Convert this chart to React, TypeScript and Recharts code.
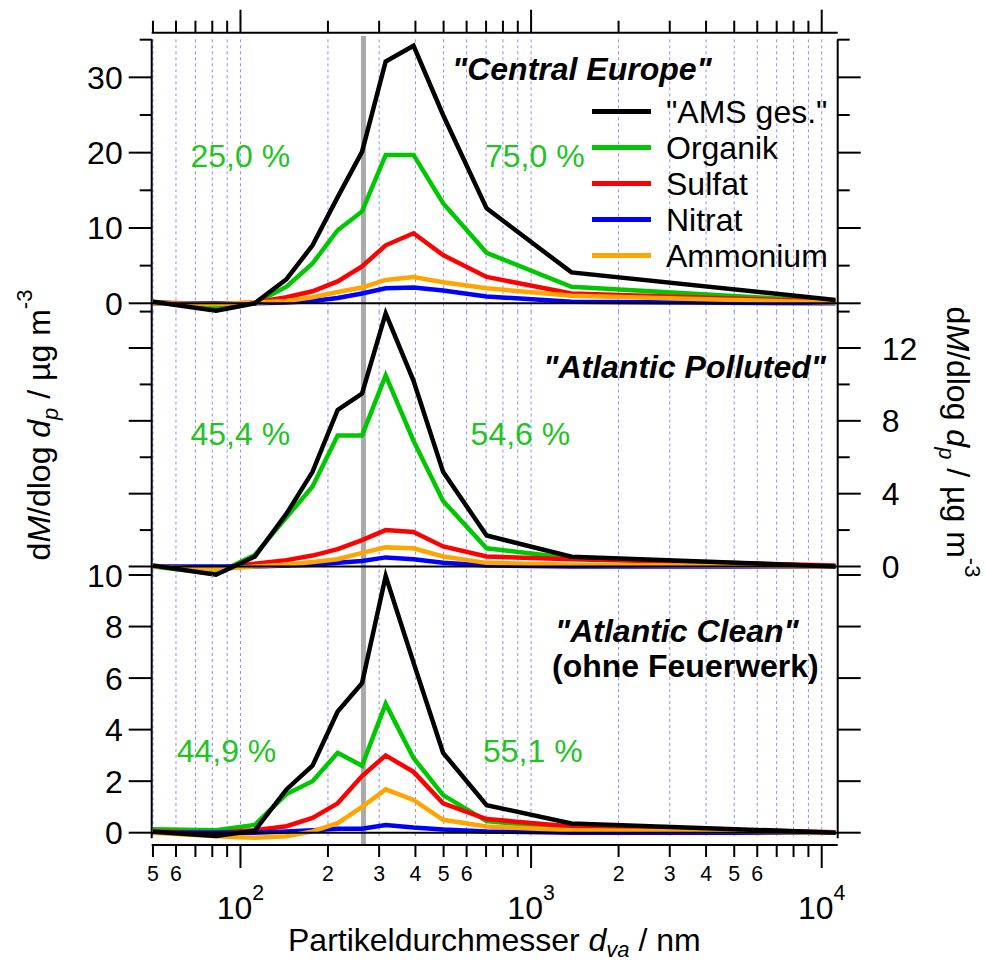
import React from 'react';
import { LineChart, Line, XAxis, YAxis, CartesianGrid, ReferenceLine, Legend } from 'recharts';

const FONT = '"Liberation Sans", Arial, Helvetica, sans-serif';

// particle size bins (nm)
const sizes = [50, 82.4, 112, 144, 177, 216, 262, 316, 394, 498, 703, 1377, 11150];

const species = ['"AMS ges."', 'Organik', 'Sulfat', 'Nitrat', 'Ammonium'];
const keys = ['total', 'org', 'so4', 'no3', 'nh4'];
const colors = ['#000000', '#00c800', '#ff0000', '#0000ff', '#ffa500'];

// "Central Europe"
const ceTotal = [0.2, -1.0, 0.0, 3.2, 7.7, 14.1, 20.1, 32.1, 34.2, 25.0, 12.6, 4.1, 0.45];
const ceOrg = [0.2, -0.45, 0.0, 2.2, 5.3, 9.7, 12.2, 19.7, 19.7, 13.3, 6.7, 2.2, 0.2];
const ceSo4 = [0.1, -0.1, 0.1, 0.8, 1.6, 2.9, 4.9, 7.7, 9.3, 6.4, 3.5, 1.3, 0.2];
const ceNo3 = [0, 0, 0, 0.1, 0.3, 0.7, 1.3, 2.0, 2.1, 1.7, 0.9, 0.2, 0];
const ceNh4 = [0, -0.1, 0.1, 0.3, 0.8, 1.5, 2.1, 3.1, 3.5, 2.8, 2.0, 1.0, 0.1];

// "Atlantic Polluted"
const apTotal = [0.05, -0.45, 0.54, 2.9, 5.2, 8.6, 9.5, 13.9, 10.2, 5.2, 1.7, 0.54, 0.0];
const apOrg = [0.0, -0.4, 0.63, 2.7, 4.4, 7.2, 7.2, 10.5, 6.9, 3.6, 1.0, 0.45, 0.0];
const apSo4 = [0.0, -0.1, 0.15, 0.35, 0.6, 0.95, 1.45, 2.0, 1.9, 1.1, 0.55, 0.4, 0.05];
const apNo3 = [0, 0, 0, 0.05, 0.1, 0.2, 0.3, 0.5, 0.4, 0.2, 0.05, 0, 0];
const apNh4 = [0, -0.15, 0.0, 0.1, 0.25, 0.4, 0.75, 1.05, 1.0, 0.55, 0.2, 0.1, 0];

// "Atlantic Clean" (ohne Feuerwerk)
const acTotal = [0.04, -0.13, 0.08, 1.68, 2.6, 4.7, 5.8, 9.96, 6.6, 3.1, 1.07, 0.36, 0.0];
const acOrg = [0.13, 0.1, 0.3, 1.5, 2.0, 3.1, 2.6, 5.0, 2.9, 1.46, 0.45, 0.15, 0.0];
const acSo4 = [0.05, 0.0, 0.1, 0.25, 0.57, 1.14, 2.2, 3.0, 2.36, 1.14, 0.53, 0.24, 0.02];
const acNo3 = [0, 0, 0, 0.05, 0.1, 0.15, 0.15, 0.3, 0.2, 0.12, 0.05, 0, 0];
const acNh4 = [0.0, -0.14, -0.2, -0.14, 0.05, 0.37, 1.0, 1.68, 1.27, 0.5, 0.24, 0.1, 0.0];

// fraction below / above the cut diameter
const pctCE = ['25,0 %', '75,0 %'];
const pctAP = ['45,4 %', '54,6 %'];
const pctAC = ['44,9 %', '55,1 %'];

const cutSize = 265;
const xDomain = [49.5, 11350];
const xTicks = [50, 60, 70, 80, 90, 100, 200, 300, 400, 500, 600, 700, 800, 900,
  1000, 2000, 3000, 4000, 5000, 6000, 7000, 8000, 9000, 10000];
const xTickLabels = ['5', '6', '', '', '', '2', '2', '3', '4', '5', '6', '', '', '',
  '3', '2', '3', '4', '5', '6', '', '', '', '4'];
const xMajor = [100, 1000, 10000];

const ceTicks = [0, 5, 10, 15, 20, 25, 30, 35];
const ceMajor = [0, 10, 20, 30];
const apTicks = [0, 2, 4, 6, 8, 10, 12, 14];
const apMajor = [0, 4, 8, 12];
const acTicks = [0, 2, 4, 6, 8, 10];

const PLOT_W = 686; // distance between left and right axis lines

const build = (rows: number[][]) =>
  sizes.map((s, i) => {
    const o: any = { size: s };
    keys.forEach((k, j) => { o[k] = rows[j][i]; });
    return o;
  });

const ceData = build([ceTotal, ceOrg, ceSo4, ceNo3, ceNh4]);
const apData = build([apTotal, apOrg, apSo4, apNo3, apNh4]);
const acData = build([acTotal, acOrg, acSo4, acNo3, acNh4]);

// left axis tick renderer; it mirrors the tick onto the right axis as well
const makeYTick = (majors: number[], leftLabels: number[], rightLabels: number[]) => (p: any) => {
  const v = Number(p.payload.value);
  const len = majors.includes(v) ? 23 : 12;
  const xr = p.x + PLOT_W;
  return (
    <g fontFamily={FONT} fontSize={32} fill="#000">
      <line x1={p.x} x2={p.x - len} y1={p.y} y2={p.y} stroke="#000" strokeWidth={2} />
      <line x1={xr} x2={xr + len} y1={p.y} y2={p.y} stroke="#000" strokeWidth={2} />
      {leftLabels.includes(v) ? (
        <text x={p.x - 29} y={p.y + 11.5} textAnchor="end">{String(v)}</text>
      ) : null}
      {rightLabels.includes(v) ? (
        <text x={xr + 44} y={p.y + 11.5} textAnchor="start">{String(v)}</text>
      ) : null}
    </g>
  );
};

const TopXTick = (p: any) => {
  const v = p.payload.value;
  const y0 = p.y - 6.6;
  const len = xMajor.includes(v) ? 23 : 12;
  return <line x1={p.x} x2={p.x} y1={y0} y2={y0 - len} stroke="#000" strokeWidth={2} />;
};

const BottomXTick = (p: any) => {
  const v = p.payload.value;
  const major = xMajor.includes(v);
  const label = xTickLabels[xTicks.indexOf(v)];
  const y0 = p.y + 6.7;
  return (
    <g fontFamily={FONT} fill="#000">
      <line x1={p.x} x2={p.x} y1={y0} y2={y0 + (major ? 23 : 12)} stroke="#000" strokeWidth={2} />
      {major ? (
        <text x={p.x} y={y0 + 74} textAnchor="middle" fontSize={32}>
          10<tspan dy={-19} fontSize={21.3}>{label}</tspan>
        </text>
      ) : label ? (
        <text x={p.x} y={y0 + 35.6} textAnchor="middle" fontSize={21.3}>{label}</text>
      ) : null}
    </g>
  );
};

const LegendBox = () => (
  <div style={{ fontFamily: FONT, fontSize: 32, color: '#000' }}>
    {species.map((s, i) => (
      <div key={s} style={{ display: 'flex', alignItems: 'center', height: 36 }}>
        <div style={{ width: 59, height: 5, background: colors[i], marginRight: 15 }} />
        <span style={{ lineHeight: '36px', whiteSpace: 'nowrap' }}>{s}</span>
      </div>
    ))}
  </div>
);

const drawOrder = [1, 2, 3, 4, 0];

const renderLines = () =>
  drawOrder.map((i) => (
    <Line
      key={keys[i]}
      yAxisId="l"
      type="linear"
      dataKey={keys[i]}
      name={species[i]}
      stroke={colors[i]}
      strokeWidth={4.5}
      dot={false}
      activeDot={false}
      isAnimationActive={false}
    />
  ));

const axisLine = { stroke: '#000', strokeWidth: 2 };

export default function App() {
  const sideMargin = { left: 91.7, right: 87.3 };
  return (
    <div style={{ position: 'absolute', left: 0, top: 0, width: 985, height: 963, background: '#fff', fontFamily: FONT }}>
      {/* Central Europe */}
      <div style={{ position: 'absolute', left: 0, top: 0 }}>
        <LineChart width={985} height={330} data={ceData} margin={{ top: 9.3, bottom: 18, ...sideMargin }}>
          <CartesianGrid yAxisId="l" horizontal={false} stroke="#8c8cff" strokeDasharray="3 3" />
          <XAxis dataKey="size" type="number" scale="log" domain={xDomain} ticks={xTicks} interval={0}
            orientation="top" height={30} axisLine={false} tickLine={false} tickSize={0} tickMargin={0} tick={TopXTick} />
          <YAxis yAxisId="l" domain={[-1.155, 35.05]} ticks={ceTicks} interval={0} width={60}
            axisLine={axisLine} tickLine={false} tickSize={0} tickMargin={0} tick={makeYTick(ceMajor, ceMajor, [])} />
          <YAxis yAxisId="r" orientation="right" domain={[-1.155, 35.05]} width={60}
            axisLine={axisLine} tickLine={false} tick={false} />
          <ReferenceLine yAxisId="l" segment={[{ x: cutSize, y: 35.5 }, { x: cutSize, y: -1.155 }]} ifOverflow="visible" stroke="#aaaaaa" strokeWidth={5} />
          <ReferenceLine yAxisId="l" y={35.93} ifOverflow="visible" stroke="#000" strokeWidth={2} />
          {renderLines()}
          <ReferenceLine yAxisId="l" y={0} stroke="#000" strokeWidth={2} />
          <Legend layout="vertical" verticalAlign="middle" align="center"
            wrapperStyle={{ left: 592, top: 93.7, width: 260, height: 180 }} content={() => <LegendBox />} />
        </LineChart>
      </div>

      {/* Atlantic Polluted */}
      <div style={{ position: 'absolute', left: 0, top: 290 }}>
        <LineChart width={985} height={305} data={apData} margin={{ top: 21.6, bottom: 20, ...sideMargin }}>
          <CartesianGrid yAxisId="l" horizontal={false} stroke="#8c8cff" strokeDasharray="3 3" />
          <XAxis dataKey="size" type="number" scale="log" domain={xDomain} ticks={xTicks} interval={0} hide />
          <YAxis yAxisId="l" domain={[-0.467, 14]} ticks={apTicks} interval={0} width={60}
            axisLine={axisLine} tickLine={false} tickSize={0} tickMargin={0} tick={makeYTick(apMajor, [], apMajor)} />
          <YAxis yAxisId="r" orientation="right" domain={[-0.467, 14]} width={60}
            axisLine={axisLine} tickLine={false} tick={false} />
          <ReferenceLine yAxisId="l" x={cutSize} stroke="#aaaaaa" strokeWidth={5} />
          {renderLines()}
          <ReferenceLine yAxisId="l" y={0} stroke="#000" strokeWidth={2} />
        </LineChart>
      </div>

      {/* Atlantic Clean */}
      <div style={{ position: 'absolute', left: 0, top: 555 }}>
        <LineChart width={985} height={408} data={acData} margin={{ top: 20, bottom: 24.7, ...sideMargin }}>
          <CartesianGrid yAxisId="l" horizontal={false} stroke="#8c8cff" strokeDasharray="3 3" />
          <XAxis dataKey="size" type="number" scale="log" domain={xDomain} ticks={xTicks} interval={0}
            height={100} axisLine={false} tickLine={false} tickSize={0} tickMargin={0} tick={BottomXTick} />
          <YAxis yAxisId="l" domain={[-0.217, 10]} ticks={acTicks} interval={0} width={60}
            axisLine={axisLine} tickLine={false} tickSize={0} tickMargin={0} tick={makeYTick(acTicks, acTicks, [])} />
          <YAxis yAxisId="r" orientation="right" domain={[-0.217, 10]} width={60}
            axisLine={axisLine} tickLine={false} tick={false} />
          <ReferenceLine yAxisId="l" segment={[{ x: cutSize, y: 10 }, { x: cutSize, y: -0.45 }]} ifOverflow="visible" stroke="#aaaaaa" strokeWidth={5} />
          <ReferenceLine yAxisId="l" y={-0.477} ifOverflow="visible" stroke="#000" strokeWidth={2} />
          {renderLines()}
          <ReferenceLine yAxisId="l" y={0} stroke="#000" strokeWidth={2} />
        </LineChart>
      </div>

      {/* annotations and axis titles */}
      <svg width={985} height={963} style={{ position: 'absolute', left: 0, top: 0, pointerEvents: 'none' }} fontFamily={FONT}>
        <g fontSize={32} fontWeight="bold" fill="#000">
          <text x={452} y={79.5} fontStyle="italic">"Central Europe"</text>
          <text x={826} y={378.3} fontStyle="italic" textAnchor="end">"Atlantic Polluted"</text>
          <text x={555} y={641.7} fontStyle="italic">"Atlantic Clean"</text>
          <text x={552} y={677}>(ohne Feuerwerk)</text>
        </g>
        <g fontSize={32} fill="#22c422">
          <text x={190.5} y={166.5}>{pctCE[0]}</text>
          <text x={485} y={166.5}>{pctCE[1]}</text>
          <text x={190.5} y={444.5}>{pctAP[0]}</text>
          <text x={470.6} y={444.5}>{pctAP[1]}</text>
          <text x={176.7} y={761.5}>{pctAC[0]}</text>
          <text x={483} y={761.5}>{pctAC[1]}</text>
        </g>
        <text x={288} y={951} fontSize={32} fill="#000">
          Partikeldurchmesser <tspan fontStyle="italic">d</tspan>
          <tspan fontStyle="italic" fontSize={22} dy={6}>va</tspan>
          <tspan dy={-6}> / nm</tspan>
        </text>
        <text transform="translate(50,425) rotate(-90)" textAnchor="middle" fontSize={32} fill="#000">
          d<tspan fontStyle="italic">M</tspan>/dlog <tspan fontStyle="italic">d</tspan>
          <tspan fontStyle="italic" fontSize={22} dy={8}>p</tspan>
          <tspan dy={-8}> / µg m</tspan>
          <tspan fontSize={22} dy={-18}>-3</tspan>
        </text>
        <text transform="translate(947,442) rotate(90)" textAnchor="middle" fontSize={32} fill="#000">
          d<tspan fontStyle="italic">M</tspan>/dlog <tspan fontStyle="italic">d</tspan>
          <tspan fontStyle="italic" fontSize={22} dy={8}>p</tspan>
          <tspan dy={-8}> / µg m</tspan>
          <tspan fontSize={22} dy={-18}>-3</tspan>
        </text>
      </svg>
    </div>
  );
}
